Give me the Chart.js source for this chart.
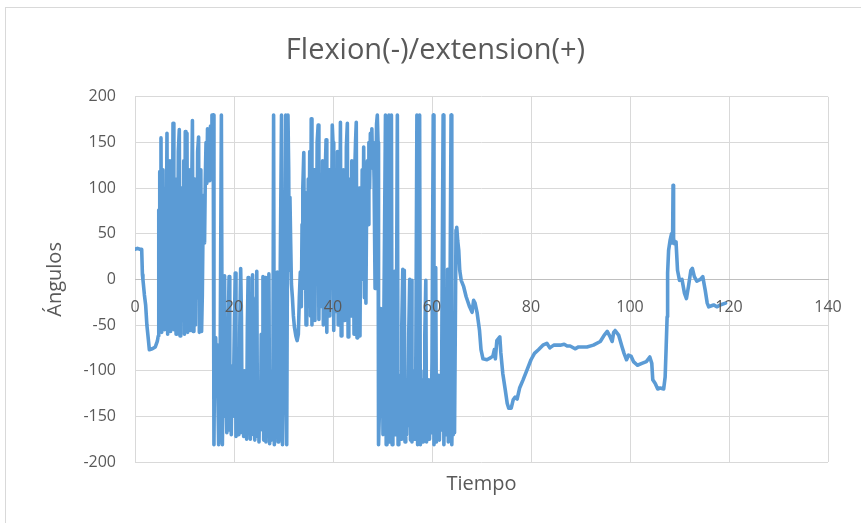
<!DOCTYPE html>
<html lang="es">
<head>
<meta charset="utf-8">
<title>Flexion(-)/extension(+)</title>
<script src="https://cdn.jsdelivr.net/npm/chart.js@4.4.1/dist/chart.umd.min.js"></script>
<style>
  html, body { margin: 0; padding: 0; background: #fff; overflow: hidden; }
  #marco { position: absolute; left: 5px; top: 7px; width: 880px; height: 540px; border: 1px solid #d9d9d9; }
  #grafico { position: absolute; left: 0; top: 0; width: 861px; height: 523px; }
</style>
</head>
<body>
<div id="marco"></div>
<div id="grafico"><canvas id="angulosChart"></canvas></div>
<script>
const titulo = 'Flexion(-)/extension(+)';
const tituloX = 'Tiempo';
const tituloY = 'Ángulos';

// tiempo (s) y ángulo (grados), en bloques de 10
const tiempo = [
  0, 0.5, 1.0, 1.35, 1.5, 1.6, 1.9, 2.15, 2.4, 2.7, 2.9, 3.5, 4.1, 4.5, 4.7,
  4.8, 4.9, 5.0, 5.1, 5.25, 5.4, 5.5, 5.65, 5.8, 5.95,
  6.1, 6.25, 6.46, 6.6, 6.75, 6.9, 7.05, 7.2, 7.35, 7.5,
  7.68, 7.85, 8.0, 8.15, 8.3, 8.45, 8.6, 8.75, 8.95, 9.1,
  9.25, 9.4, 9.55, 9.7, 9.85, 10.0, 10.16, 10.3, 10.5, 10.65,
  10.8, 10.95, 11.1, 11.25, 11.4, 11.6, 11.75, 11.9, 12.05, 12.2,
  12.35, 12.5, 12.65, 12.85, 13.0, 13.15, 13.3, 13.45,
  13.6, 13.75, 13.9, 14.05, 14.2, 14.35, 14.5, 14.65, 14.8, 14.95,
  15.1, 15.25, 15.4, 15.55, 15.7, 15.8,
  15.95, 16.1, 16.3, 16.45, 16.6, 16.75, 16.9, 17.05, 17.2, 17.45,
  17.65, 17.8, 17.95, 18.1, 18.25, 18.4, 18.55, 18.7, 18.85, 19.0,
  19.15, 19.3, 19.45, 19.6, 19.75, 19.9, 20.05, 20.25, 20.4, 20.55,
  20.7, 20.85, 21.0, 21.15, 21.35, 21.5, 21.65, 21.8, 21.95, 22.1,
  22.25, 22.4, 22.55, 22.7, 22.85, 23.0, 23.15, 23.3, 23.45, 23.6,
  23.75, 23.9, 24.05, 24.2, 24.35, 24.5, 24.6, 24.75, 24.9, 25.05,
  25.2, 25.35, 25.5, 25.7, 25.85, 26.0, 26.15, 26.3, 26.45, 26.6,
  26.75, 26.9, 27.05, 27.2, 27.35, 27.55, 27.7, 27.85, 28.0, 28.15,
  28.3, 28.45, 28.6, 28.75, 28.9, 29.05, 29.2, 29.35, 29.6, 29.8,
  29.95, 30.1, 30.3, 30.45, 30.65, 30.9,
  31.05, 31.15, 31.3, 31.45, 31.6, 31.8, 32.0, 32.2, 32.5, 32.75,
  33.0, 33.2, 33.4, 33.6, 33.75, 33.9, 34.1, 34.25, 34.4, 34.55,
  34.7, 34.85, 35.0, 35.15, 35.3, 35.45, 35.6, 35.75, 35.9, 36.05,
  36.2, 36.35, 36.5, 36.65, 36.8, 37.0, 37.15, 37.3, 37.45, 37.6,
  37.75, 37.9, 38.05, 38.2, 38.35, 38.6, 38.75, 38.9, 39.05, 39.2,
  39.35, 39.5, 39.65, 39.85, 40.0, 40.15, 40.3, 40.45, 40.6, 40.75,
  40.9, 41.05, 41.2, 41.35, 41.5, 41.65, 41.8, 41.95, 42.1, 42.25,
  42.4, 42.55, 42.7, 42.9, 43.05, 43.2, 43.35, 43.5, 43.65, 43.8,
  43.95, 44.1, 44.25, 44.4, 44.55, 44.7, 44.85, 45.0, 45.15, 45.3,
  45.45, 45.6, 45.75, 45.9, 46.05, 46.2, 46.35, 46.5, 46.65, 46.8,
  46.95, 47.1, 47.25, 47.4, 47.55, 47.7, 47.85, 48.0, 48.15, 48.3,
  48.5, 48.65, 48.8, 48.95, 49.1,
  49.2, 49.35, 49.5, 49.65, 49.8, 49.95, 50.1, 50.25, 50.6, 50.75,
  50.9, 51.1, 51.3, 51.45, 51.6, 51.8, 51.95, 52.1, 52.25, 52.45,
  52.6, 52.75, 53.0, 53.15, 53.3, 53.45, 53.6, 53.75, 53.9, 54.1,
  54.25, 54.4, 54.55, 54.7, 54.85, 55.0, 55.15, 55.3, 55.5, 55.65,
  55.8, 55.95, 56.1, 56.25, 56.4, 56.55, 56.7, 56.95, 57.1, 57.3,
  57.5, 57.65, 57.8, 57.95, 58.1, 58.25, 58.4, 58.55, 58.75, 58.9,
  59.05, 59.2, 59.35, 59.5, 59.65, 59.8, 60.0, 60.25, 60.4, 60.55,
  60.75, 60.9, 61.05, 61.2, 61.35, 61.5, 61.65, 61.8, 61.95, 62.25,
  62.4, 62.55, 62.7, 62.85, 63.0, 63.15, 63.3, 63.45, 63.6, 63.85,
  64.0, 64.15, 64.3, 64.45, 64.55, 64.7, 64.85, 65.0, 65.2, 65.4,
  65.6, 65.9, 66.4, 66.9, 67.6, 68.1, 68.4, 68.7, 69.1, 69.6,
  69.9, 70.3, 71.1, 71.8, 72.3, 72.6, 72.8, 73.1, 73.7, 73.9,
  74.3, 74.8, 75.2, 75.5, 76.0, 76.4, 76.8, 77.2, 77.7, 78.4,
  79.2, 80.0, 80.7, 81.5, 82.4, 83.2, 83.8, 84.6, 85.9, 86.7,
  87.3, 87.9, 88.9, 89.6, 91.3, 92.6, 94.0, 94.8, 95.4, 96.0,
  96.4, 96.7, 97.0, 97.7, 98.4, 98.8, 99.3, 99.7, 100.2, 100.7,
  101.5, 102.4, 103.3, 104.0, 104.4, 104.6, 105.1, 105.6, 106.1, 106.8,
  107.1, 107.3, 107.5, 107.6, 107.8, 108.1, 108.4, 108.6, 108.7, 108.8,
  109.0, 109.3, 109.6, 110.0, 110.5, 111.0, 111.4, 111.8, 112.3, 112.6,
  113.0, 113.5, 114.2, 114.7, 115.2, 115.6, 115.9, 116.9, 117.6, 118.2,
  119.3
];

const angulos = [
  33, 34, 33, 33, 5, 0, -17, -28, -50, -66, -77, -76, -74, -68, -62,
  76, -40, 118, -10, 155, -58, 120, 10, 100, -55,
  80, -20, 160, -60, 60, 0, 130, -57, 90, -30,
  171, -55, 40, 110, -60, 70, -10, 140, 164, -62,
  50, 100, -45, 20, 130, -60, 162, -10, 160, -58,
  80, -30, 120, -56, 60, 174, -57, 30, 110, -50,
  90, -20, 140, 156, -58, 70, 120, -57,
  -17, 60, 92, 40, 110, 150, 105, 165, 120, 160,
  108, 168, 140, 180, 165, 180,
  -181, -68, -64, -100, -72, -130, -181, -150, -95, 180,
  -181, -110, -60, 4, -150, -105, -168, -120, -50, 3,
  -165, -125, -170, -95, -150, -120, -60, 7, -172, -130,
  -165, -105, -170, -60, 12, -40, -168, -125, -172, -100,
  -160, -135, -175, -50, 2, -165, -120, -175, -90, -155,
  5, -170, -130, -176, -110, -20, 9, -172, -140, -178,
  -120, -165, -60, -150, 3, -176, -135, 2, -178, -125,
  -170, -40, 6, -180, -140, -176, -100, -150, 180, -181,
  -120, -170, -90, 8, -178, -130, -175, 13, 180, -181,
  -130, -60, 10, 180, -181, 180,
  120, 10, 90, 40, -5, -20, -40, -52, -62, -67,
  -60, -20, 8, -30, 60, 100, 139, -10, 95, -50,
  60, -30, 110, 10, 140, -40, 176, -50, 80, -20,
  120, -45, 90, 0, 150, 169, -44, 70, -30, 115,
  -10, 130, -50, 60, 100, 153, -58, 40, -20, 120,
  -40, 80, 10, 169, 150, -56, 60, -35, 110, -10,
  140, -50, 90, 20, 172, -62, 50, -30, 120, -45,
  80, 0, 145, 171, -63, 70, -20, 110, -40, 130,
  -5, 90, -60, 120, 150, 172, -64, 40, -30, 100,
  -62, 70, 0, 120, 20, 145, -20, 110, -26, 90,
  130, 60, 150, 100, 160, 130, 165, 122, 150, 110,
  -10, 100, 170, 180, 150,
  -181, -150, -100, -32, -149, -45, -170, -60, 180, -181,
  -120, -150, 180, -178, -110, 180, -181, -140, -100, 9,
  -170, -130, 180, -181, -120, -160, -105, -175, -50, 11,
  -170, 10, -178, -130, -170, -110, -160, -60, 0, -176,
  -1, -178, -120, -165, -100, -175, -130, 180, -181, -150,
  180, -181, -110, -160, -120, -178, -100, -60, -1, -178,
  -130, -170, -110, -175, -125, -168, -90, 180, -181, -140,
  13, -178, -120, -170, -105, -176, -130, -165, -100, 180,
  -181, -120, -170, -110, -160, 11, -178, -130, -60, 180,
  -181, -140, -170, -100, -168, -60, 54, 57, 42, 32,
  10, -1, -8, -19, -30, -36, -23, -26, -36, -56,
  -77, -87, -88, -86, -84, -77, -87, -67, -63, -80,
  -103, -121, -136, -141, -141, -132, -129, -131, -119, -110,
  -99, -88, -81, -77, -72, -70, -75, -72, -72, -71,
  -73, -73, -76, -74, -74, -72, -68, -61, -57, -63,
  -68, -58, -56, -61, -74, -81, -88, -83, -84, -90,
  -94, -92, -90, -85, -92, -110, -114, -120, -119, -120,
  -107, -75, -41, 7, 32, 43, 50, 40, 103, 45,
  39, 41, 10, -1, 0, -15, -21, -8, 10, 12,
  3, -2, 0, 3, -12, -26, -30, -28, -30, -28,
  -26
];

const ticksX = [0, 20, 40, 60, 80, 100, 120, 140];
const ticksY = [-200, -150, -100, -50, 0, 50, 100, 150, 200];

const puntos = tiempo.map((t, i) => ({ x: t, y: angulos[i] }));

const gris = '#595959';
const rejilla = '#d9d9d9';
Chart.defaults.font.family = "'Open Sans', sans-serif";
Chart.defaults.color = gris;

const ctx = document.getElementById('angulosChart').getContext('2d');
new Chart(ctx, {
    type: 'line',
    data: {
        datasets: [{
            data: puntos,
            borderColor: '#5b9bd5',
            borderWidth: 3.6,
            pointRadius: 0,
            tension: 0,
            borderJoinStyle: 'round',
            borderCapStyle: 'round'
        }]
    },
    options: {
        responsive: true,
        maintainAspectRatio: false,
        animation: false,
        layout: { padding: { left: 43, right: 33, top: 0, bottom: 0 } },
        plugins: {
            legend: { display: false },
            tooltip: { enabled: false },
            title: {
                display: true,
                text: titulo,
                color: gris,
                font: { size: 29, weight: 'normal' },
                padding: { top: 33, bottom: 29 }
            },
            subtitle: {
                display: true,
                position: 'bottom',
                fullSize: false,
                text: tituloX,
                color: gris,
                font: { size: 20, weight: 'normal' },
                padding: { top: 10, bottom: 27 }
            }
        },
        scales: {
            x: {
                type: 'linear',
                min: 0,
                max: 140,
                position: { y: 0 },
                afterBuildTicks: (scale) => { scale.ticks = ticksX.map(v => ({ value: v })); },
                ticks: { font: { size: 16 }, padding: 18, maxRotation: 0, z: 1 },
                grid: { color: rejilla, drawTicks: false },
                border: { color: '#bfbfbf' }
            },
            y: {
                min: -200,
                max: 200,
                afterBuildTicks: (scale) => { scale.ticks = ticksY.map(v => ({ value: v })); },
                afterFit: (scale) => { scale.width = 92; },
                ticks: { font: { size: 16 }, padding: 19 },
                grid: { color: rejilla, drawTicks: false },
                border: { display: false },
                title: {
                    display: true,
                    text: tituloY,
                    color: gris,
                    font: { size: 20, weight: 'normal' },
                    padding: { top: 0, bottom: 0 }
                }
            }
        }
    }
});
</script>
</body>
</html>
